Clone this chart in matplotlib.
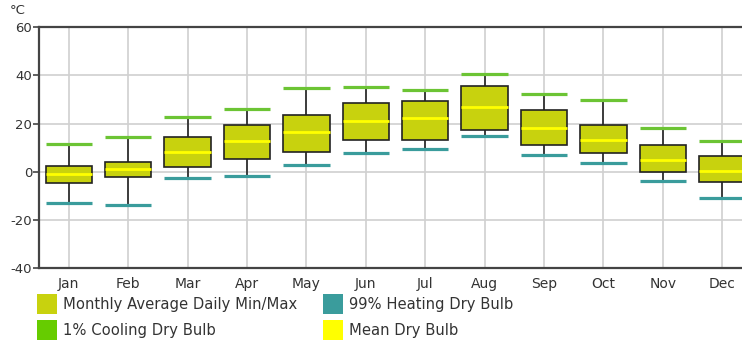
import matplotlib.pyplot as plt
from matplotlib.patches import Rectangle
import numpy as np

months = ['Jan', 'Feb', 'Mar', 'Apr', 'May', 'Jun', 'Jul', 'Aug', 'Sep', 'Oct', 'Nov', 'Dec']
cooling_1pct = [11.6, 14.6, 22.9, 26.0, 34.7, 35.3, 34.1, 40.8, 32.4, 30.0, 18.3, 12.9]
daily_max = [2.6, 4.1, 14.4, 19.5, 23.8, 28.5, 29.6, 35.5, 25.6, 19.5, 11.3, 6.8]
mean_dry_bulb = [-1.0, 1.0, 8.3, 12.9, 16.4, 21.2, 22.4, 27.1, 18.3, 13.4, 5.1, 0.5]
daily_min = [-4.7, -2.1, 2.1, 5.5, 8.3, 13.3, 13.3, 17.4, 11.3, 7.7, 0.0, -4.1]
heating_99pct = [-13.0, -13.7, -2.5, -1.8, 2.9, 8.0, 9.3, 14.8, 7.1, 3.9, -3.7, -10.8]

y_ticks = [-40, -20, 0, 20, 40, 60]
legend_labels = ['Monthly Average Daily Min/Max', '99% Heating Dry Bulb',
                 '1% Cooling Dry Bulb', 'Mean Dry Bulb']

c_box = '#c8d20e'
c_heat = '#3a9c9c'
c_cool = '#6cc434'
c_mean = '#ffff00'
legend_colors = [c_box, c_heat, '#66cc00', c_mean]

fig = plt.figure(figsize=(7.42, 3.47), dpi=100)
ax = fig.add_axes([39 / 742, 78.7 / 347, 713 / 742, 241 / 347])

x = np.arange(len(months))
lo = np.array(daily_min)
hi = np.array(daily_max)
w = 0.78

# whiskers
ax.vlines(x, heating_99pct, lo, color='#222222', lw=1.2, zorder=2)
ax.vlines(x, hi, cooling_1pct, color='#222222', lw=1.2, zorder=2)
# boxes
ax.bar(x, hi - lo, bottom=lo, width=w, color=c_box, edgecolor='#222222', lw=1.2, zorder=3)
# design lines
ax.hlines(cooling_1pct, x - w / 2, x + w / 2, color=c_cool, lw=2.3, zorder=4)
ax.hlines(heating_99pct, x - w / 2, x + w / 2, color=c_heat, lw=2.3, zorder=4)
ax.hlines(mean_dry_bulb, x - w / 2, x + w / 2, color=c_mean, lw=2.0, zorder=4)

ax.set_xlim(-0.5, 11.5)
ax.set_ylim(-40, 60)
ax.set_xticks(x)
ax.set_xticklabels(months, fontsize=10, color='#333333')
ax.set_yticks(y_ticks)
ax.set_yticklabels([str(v) for v in y_ticks], fontsize=9.5, color='#333333')
ax.tick_params(axis='x', length=0, pad=6)
ax.tick_params(axis='y', length=4, width=1.2, color='#444444', pad=1)
ax.grid(True, color='#d0d0d0', lw=1.2, zorder=0)
ax.set_axisbelow(True)
for s in ['left', 'bottom', 'top']:
    ax.spines[s].set_color('#444444')
    ax.spines[s].set_linewidth(1.6)
ax.spines['right'].set_visible(False)

fig.text(10 / 742, 1 - 11 / 347, '°C', fontsize=9.5, color='#333333', va='center', ha='left')

# legend below the chart
pos = [(37, 294), (323, 294), (37, 320), (323, 320)]
for (px, py), lab, col in zip(pos, legend_labels, legend_colors):
    fig.add_artist(Rectangle((px / 742, 1 - (py + 20) / 347), 20 / 742, 20 / 347,
                             transform=fig.transFigure, facecolor=col, edgecolor='none'))
    fig.text((px + 26) / 742, 1 - (py + 10) / 347, lab, fontsize=10.6, color='#333333',
             va='center', ha='left')

plt.savefig('out.png')
plt.close()
